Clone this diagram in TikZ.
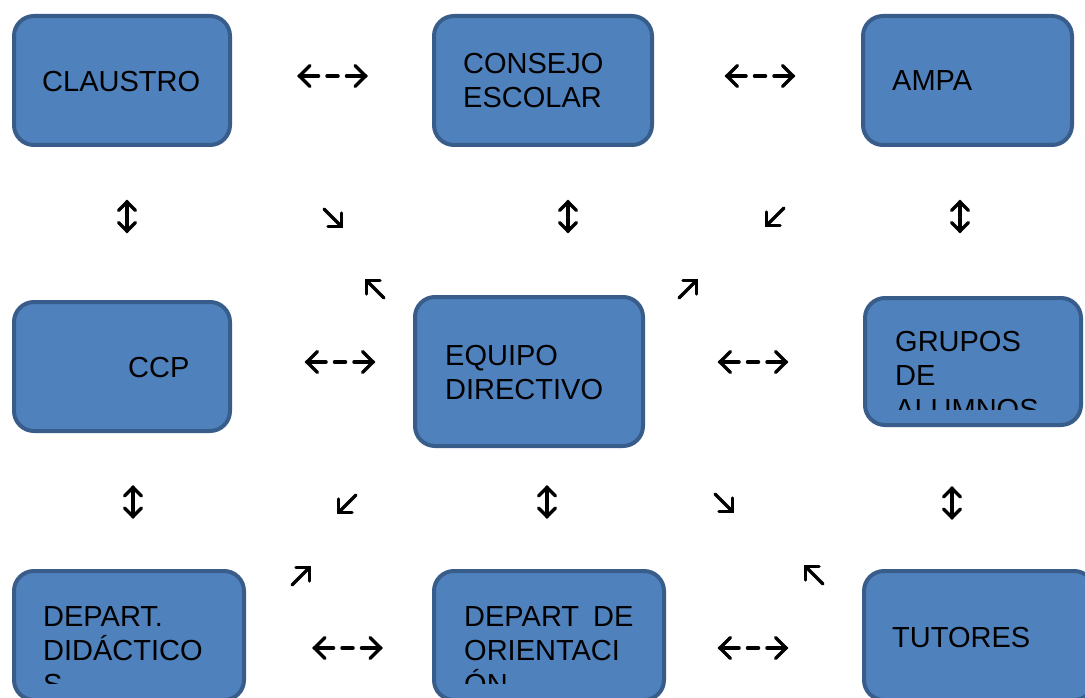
\documentclass[tikz,border=0pt]{standalone}
\usepackage{fontspec}
\setmainfont{Liberation Sans}
\definecolor{boxfill}{HTML}{4F81BD}
\definecolor{boxline}{HTML}{385D8A}
\tikzset{
  box/.style={draw=boxline, fill=boxfill, line width=4pt, rounded corners=20pt, inner sep=0pt},
  lbl/.style={anchor=base west, inner sep=0pt, align=left, font=\fontsize{29}{34}\selectfont},
  arr/.style={draw=black, line width=3.5pt, line cap=round, line join=miter},
  pics/harrow/.style={code={
    \draw[arr] (-33,0) -- (-14,0);
    \draw[arr] (-22.5,-10.5) -- (-33,0) -- (-22.5,10.5);
    \draw[arr] (-5.5,0) -- (5.5,0);
    \draw[arr] (14,0) -- (33,0);
    \draw[arr] (22.5,-10.5) -- (33,0) -- (22.5,10.5);
  }},
  pics/varrow/.style={code={
    \draw[arr] (0,-14.5) -- (0,14.5);
    \draw[arr] (-8.5,-6) -- (0,-14.5) -- (8.5,-6);
    \draw[arr] (-8.5,6) -- (0,14.5) -- (8.5,6);
  }},
  pics/darrow/.style={code={
    \draw[arr] (-9,-9) -- (8.5,8.5);
    \draw[arr] (-5,8.5) -- (8.5,8.5) -- (8.5,-5);
  }},
}
\begin{document}
\begin{tikzpicture}[x=1pt,y=-1pt]
\clip (0,0) rectangle (1085,698);
\fill[white] (0,0) rectangle (1085,698);
% boxes
\node[box, minimum width=216pt, minimum height=129pt] (claustro) at (122,80.5) {};
\node[box, minimum width=218pt, minimum height=129pt] (consejo) at (543,80.5) {};
\node[box, minimum width=209pt, minimum height=129pt] (ampa) at (967.5,80.5) {};
\node[box, minimum width=216pt, minimum height=129pt] (ccp) at (122,366.5) {};
\node[box, minimum width=228pt, minimum height=149pt] (equipo) at (529,371.5) {};
\node[box, minimum width=216pt, minimum height=127pt] (grupos) at (973,361.5) {};
\node[box, minimum width=230pt, minimum height=129pt] (depart) at (129,635.5) {};
\node[box, minimum width=230pt, minimum height=129pt] (orient) at (549,635.5) {};
\node[box, minimum width=230pt, minimum height=129pt] (tutores) at (979,635.5) {};
% texts (anchor = baseline of the last line)
\node[lbl] (tclaustro) at (42,92) {CLAUSTRO};
\node[lbl] (tconsejo) at (463,108) {CONSEJO\\ESCOLAR};
\node[lbl] (tampa) at (892,91) {AMPA};
\node[lbl] (tccp) at (128,377) {CCP};
\node[lbl] (tequipo) at (445,399) {EQUIPO\\DIRECTIVO};
\begin{scope}
  \clip (865,298) rectangle (1081,409);
  \node[lbl] (tgrupos) at (895,419) {GRUPOS\\DE\\ALUMNOS};
\end{scope}
\begin{scope}
  \clip (14,571) rectangle (244,683);
  \node[lbl] (tdepart) at (43,694) {DEPART.\\DIDÁCTICO\\S};
\end{scope}
\begin{scope}
  \clip (434,571) rectangle (664,683);
  \node[lbl] (torient) at (464,694) {DEPART\hspace{6pt} DE\\ORIENTACI\\ÓN};
\end{scope}
\node[lbl] (ttutores) at (892,647) {TUTORES};
% symbol arrows
\pic (h1) at (332.5,76) {harrow};
\pic (h2) at (760,76) {harrow};
\pic (h3) at (340,362) {harrow};
\pic (h4) at (753,362) {harrow};
\pic (h5) at (347.5,648) {harrow};
\pic (h6) at (753,648) {harrow};
\pic (v1) at (127,216.5) {varrow};
\pic (v2) at (568,216.5) {varrow};
\pic (v3) at (960,216.5) {varrow};
\pic (v4) at (133,502) {varrow};
\pic (v5) at (547,502) {varrow};
\pic (v6) at (952,503) {varrow};
\pic (d1) at (333,218) {darrow};
\pic[rotate=180] (d2) at (375,289) {darrow};
\pic[rotate=-90] (d3) at (775,217) {darrow};
\pic[rotate=90] (d4) at (688,289) {darrow};
\pic[rotate=-90] (d5) at (347,504) {darrow};
\pic[rotate=90] (d6) at (301,576) {darrow};
\pic (d7) at (724,503) {darrow};
\pic[rotate=180] (d8) at (814,575) {darrow};
\end{tikzpicture}
\end{document}
